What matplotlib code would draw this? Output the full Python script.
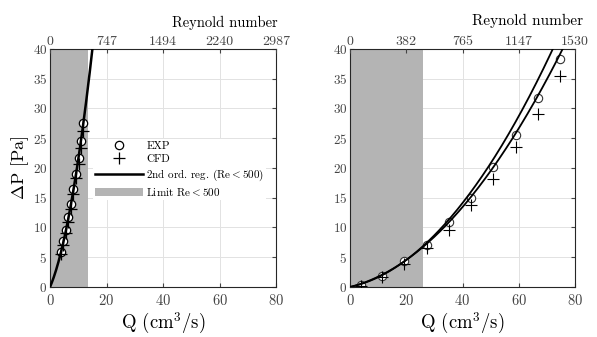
import numpy as np
import matplotlib.pyplot as plt
from matplotlib.lines import Line2D
from matplotlib.patches import Patch

plt.rcParams['font.family'] = 'serif'
plt.rcParams['font.serif'] = ['cmr10']
plt.rcParams['mathtext.fontset'] = 'cm'
plt.rcParams['axes.formatter.use_mathtext'] = True

# left panel
q_exp_l = [3.9, 4.7, 5.5, 6.4, 7.3, 8.1, 9.1, 10.1, 10.9, 11.8]
dp_exp_l = [5.9, 7.8, 9.6, 11.7, 14.0, 16.4, 19.0, 21.6, 24.5, 27.5]
q_cfd_l = [3.9, 4.7, 5.5, 6.4, 7.3, 8.1, 9.1, 10.1, 10.9, 11.8]
dp_cfd_l = [5.6, 7.1, 9.0, 11.0, 13.1, 15.6, 18.3, 20.7, 23.4, 26.3]
reg_l = [1.107, 0.104]          # dP = a*Q + b*Q^2
lim_l = 13.4
re_l = ['0', '747', '1494', '2240', '2987']

# right panel
q_exp_r = [3.8, 11.5, 19.3, 27.3, 35.2, 43.1, 51.0, 58.9, 66.8, 74.8]
dp_exp_r = [0.4, 1.9, 4.3, 7.1, 10.9, 15.0, 20.1, 25.6, 31.7, 38.4]
q_cfd_r = [3.8, 11.5, 19.3, 27.3, 35.2, 43.1, 51.0, 58.9, 66.8, 74.8]
dp_cfd_r = [0.2, 1.6, 3.9, 6.5, 9.6, 13.7, 18.2, 23.5, 29.1, 35.5]
reg_r_low = [0.1185, 0.005432]
reg_r_up = [0.1013, 0.00629]
lim_r = 26.1
re_r = ['0', '382', '765', '1147', '1530']

q_ticks = [0, 20, 40, 60, 80]
dp_ticks = [0, 5, 10, 15, 20, 25, 30, 35, 40]

tick_col = '#444444'
gray = '#b4b4b4'

fig = plt.figure(figsize=(5.97, 3.37), dpi=100)
axL = fig.add_axes([0.0838, 0.1484, 0.3786, 0.7062])
axR = fig.add_axes([0.5863, 0.1484, 0.3769, 0.7062])

q = np.linspace(0, 80, 600)


def setup(ax, re_labels, lab_x, lab_y, lab_fs):
    ax.set_xlim(0, 80)
    ax.set_ylim(0, 40)
    ax.set_xticks(q_ticks)
    ax.set_yticks(dp_ticks)
    ax.set_axisbelow(True)
    ax.grid(True, color='#e2e2e2', lw=0.7)
    ax.tick_params(axis='x', direction='in', length=3, labelsize=10.5,
                   colors=tick_col, top=False, pad=4)
    ax.tick_params(axis='y', direction='in', length=3, labelsize=9.5,
                   colors=tick_col, right=True, pad=2)
    for s in ax.spines.values():
        s.set_color('#262626')
        s.set_linewidth(0.8)
    ax.set_xlabel(r'Q (cm$^3$/s)', fontsize=13.5, labelpad=2.5)
    top = ax.twiny()
    top.set_xlim(0, 80)
    top.set_xticks(q_ticks)
    top.set_xticklabels(re_labels)
    top.tick_params(axis='x', direction='in', length=3, labelsize=10,
                    colors=tick_col, pad=1)
    top.spines[:].set_visible(False)
    ax.text(lab_x, lab_y, 'Reynold number', transform=ax.transAxes,
            ha='center', va='center', fontsize=lab_fs)


setup(axL, re_l, 0.774, 1.11, 10.5)
setup(axR, re_r, 0.789, 1.12, 11)

# left
axL.axvspan(0, lim_l, color=gray, lw=0, zorder=1)
axL.plot(q, reg_l[0] * q + reg_l[1] * q ** 2, color='black', lw=1.8, zorder=3)
axL.plot(q_exp_l, dp_exp_l, 'o', mfc='white', mec='black', ms=6, mew=0.9, zorder=2.5)
axL.plot(q_cfd_l, dp_cfd_l, '+', color='black', ms=8, mew=0.9, zorder=4)
axL.set_ylabel(r'$\Delta$P [Pa]', fontsize=13)
axL.yaxis.set_label_coords(-0.082, 0.5)

handles = [
    Line2D([], [], ls='none', marker='o', mfc='white', mec='black', ms=6, mew=0.9),
    Line2D([], [], ls='none', marker='+', color='black', ms=8, mew=0.9),
    Line2D([], [], color='black', lw=1.8),
    Patch(facecolor=gray, edgecolor='none'),
]
labels = ['EXP', 'CFD', r'2nd ord. reg. (Re$<$500)', r'Limit Re$<$500']
leg = axL.legend(handles, labels, loc='upper left', bbox_to_anchor=(0.19, 0.622),
                 frameon=True, framealpha=1, edgecolor='none', fancybox=False,
                 fontsize=8, handlelength=4.3, labelspacing=0.3, borderpad=0.2,
                 handletextpad=0.3, borderaxespad=0)
leg.set_zorder(5)

# right
axR.axvspan(0, lim_r, color=gray, lw=0, zorder=1)
axR.plot(q, reg_r_low[0] * q + reg_r_low[1] * q ** 2, color='black', lw=1.3, zorder=3)
axR.plot(q, reg_r_up[0] * q + reg_r_up[1] * q ** 2, color='black', lw=1.3, zorder=3)
axR.plot(q_exp_r, dp_exp_r, 'o', mfc='white', mec='#333333', ms=6, mew=0.8, zorder=2.5)
axR.plot(q_cfd_r, dp_cfd_r, '+', color='black', ms=8, mew=0.8, zorder=4)

fig.savefig('out.png', dpi=100)
